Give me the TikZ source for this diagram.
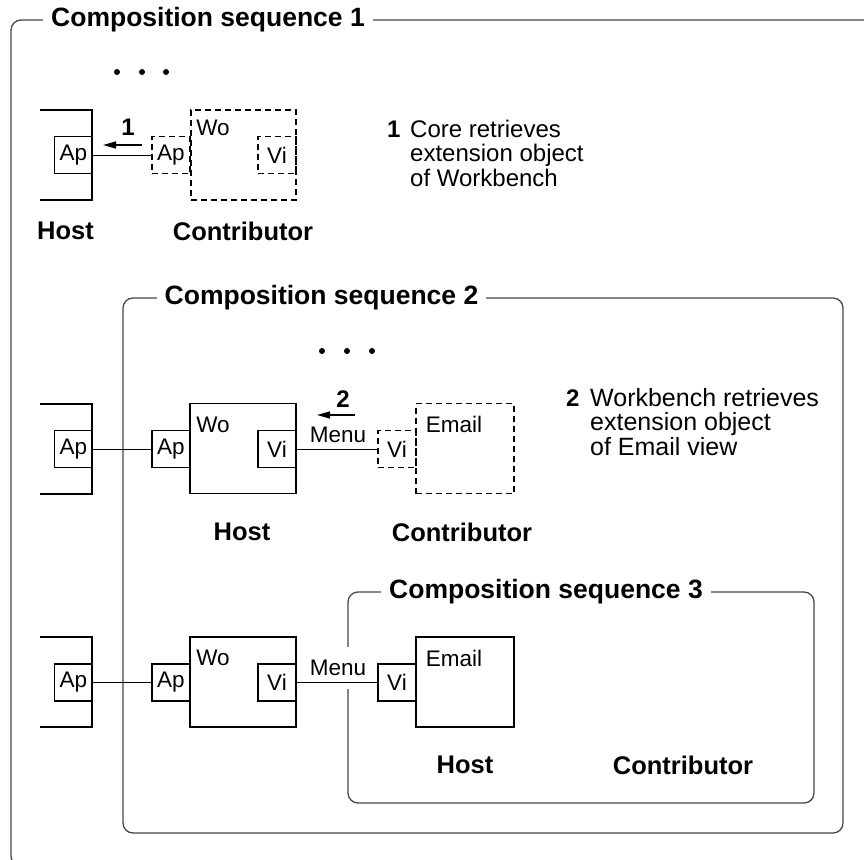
\documentclass[tikz,border=0pt]{standalone}
\usepackage{fontspec}
\setmainfont{Liberation Sans}
\usetikzlibrary{arrows.meta}
\tikzset{
  box/.style={draw, line width=1.5pt, rectangle, inner sep=0pt, minimum width=38pt, minimum height=37pt, font=\fontsize{22.5}{24}\selectfont},
  bigbox/.style={draw, line width=1.5pt, rectangle, inner sep=0pt, minimum height=90pt},
  dbox/.style={dash pattern=on 6pt off 4pt},
  conn/.style={line width=1pt},
  arr/.style={line width=1.5pt, -{Triangle[length=13pt,width=7pt]}},
  brk/.style={line width=1.5pt},
  frame/.style={draw=black!72, line width=1.3pt, rounded corners=10pt},
  title/.style={fill=white, inner xsep=8pt, inner ysep=2pt, font=\fontsize{26.5}{28}\selectfont\bfseries},
  role/.style={inner sep=0pt, font=\fontsize{25.5}{28}\selectfont\bfseries},
  small/.style={inner sep=0pt, font=\fontsize{22.5}{24}\selectfont},
  body/.style={inner sep=0pt, align=left, font=\fontsize{24}{24.5}\selectfont},
  bodyb/.style={inner sep=0pt, align=left, font=\fontsize{25}{24.5}\selectfont},
  num/.style={inner sep=0pt, font=\fontsize{24}{26}\selectfont\bfseries},
}
\begin{document}
\begin{tikzpicture}[x=1pt,y=-1pt]
\useasboundingbox (0,0) rectangle (864,859);
\clip (0,0) rectangle (864,859);

% ---- frames ----
\draw[frame] (11,20) rectangle (900,866);
\node[title] (t1) at (208,20) {Composition sequence 1};
\draw[frame] (123,298) rectangle (843,833);
\node[title] (t2) at (321.5,298) {Composition sequence 2};
\draw[frame] (348,592) rectangle (814,803);
\node[title] (t3) at (546,592) {Composition sequence 3};

% ================= Sequence 1 =================
\fill (117,72) circle (3pt) (142,72) circle (3pt) (166,72) circle (3pt);
\draw[brk] (40,110) -| (92,200) -- (40,200);
\node[box] (apH1) at (73.5,155) {Ap};
\node[bigbox, dbox, minimum width=105pt] (wo1) at (243.5,155) {};
\node[box, dbox] (apW1) at (171,155) {Ap};
\node[box, dbox] (vi1) at (277,155) {Vi};
\node[small] (wol1) at (213,128) {Wo};
\draw[conn] (apH1.east) -- (apW1.west);
\coordinate (a1s) at (142,145);
\coordinate (a1e) at (103,145);
\draw[arr] (a1s) -- (a1e);
\node[num] (n1) at (128,127) {1};
\node[role] (host1) at (65.5,231) {Host};
\node[role] (con1) at (243,231) {Contributor};
\node[num, anchor=base west] (d1n) at (387,137) {1};
\node[body, anchor=north west] (d1) at (410,119.5) {Core retrieves\\extension object\\of Workbench};

% ================= Sequence 2 =================
\fill (322,351) circle (3pt) (347,351) circle (3pt) (372,351) circle (3pt);
\draw[brk] (40,404) -| (92,494) -- (40,494);
\node[box] (apH2) at (73.5,449) {Ap};
\node[bigbox, minimum width=106pt] (wo2) at (243,448.5) {};
\node[box, fill=white] (apW2) at (171,449) {Ap};
\node[box, fill=white] (vi2) at (277,449) {Vi};
\node[small] (wol2) at (213,425) {Wo};
\node[bigbox, dbox, minimum width=98pt] (em2) at (465,448.5) {};
\node[box, dbox] (viE2) at (397,449) {Vi};
\node[small] (eml2) at (454,424) {Email};
\node[small] (menu2) at (338,435) {Menu};
\draw[conn] (apH2.east) -- (apW2.west);
\draw[conn] (vi2.east) -- (viE2.west);
\coordinate (a2s) at (355,415);
\coordinate (a2e) at (317,415);
\draw[arr] (a2s) -- (a2e);
\node[num] (n2) at (343,399) {2};
\node[role] (host2) at (242,532) {Host};
\node[role] (con2) at (462,532) {Contributor};
\node[num, anchor=base west] (d2n) at (566,406) {2};
\node[bodyb, anchor=north west] (d2) at (590,388) {Workbench retrieves\\extension object\\of Email view};

% ================= Sequence 3 =================
\draw[brk] (40,637) -| (92,727) -- (40,727);
\node[box] (apH3) at (73.5,682.5) {Ap};
\node[bigbox, minimum width=106pt] (wo3) at (243,682) {};
\node[box, fill=white] (apW3) at (171,682.5) {Ap};
\node[box, fill=white] (vi3) at (277,682.5) {Vi};
\node[small] (wol3) at (213,658) {Wo};
\node[bigbox, minimum width=98pt] (em3) at (465,682) {};
\node[box, fill=white] (viE3) at (397,682.5) {Vi};
\node[small] (eml3) at (454,658) {Email};
\node[small, fill=white, minimum height=42pt, inner xsep=3pt] (menu3) at (338,668) {Menu};
\draw[conn] (apH3.east) -- (apW3.west);
\draw[conn] (vi3.east) -- (viE3.west);
\node[role] (host3) at (465,765) {Host};
\node[role] (con3) at (683,765) {Contributor};
\end{tikzpicture}
\end{document}
